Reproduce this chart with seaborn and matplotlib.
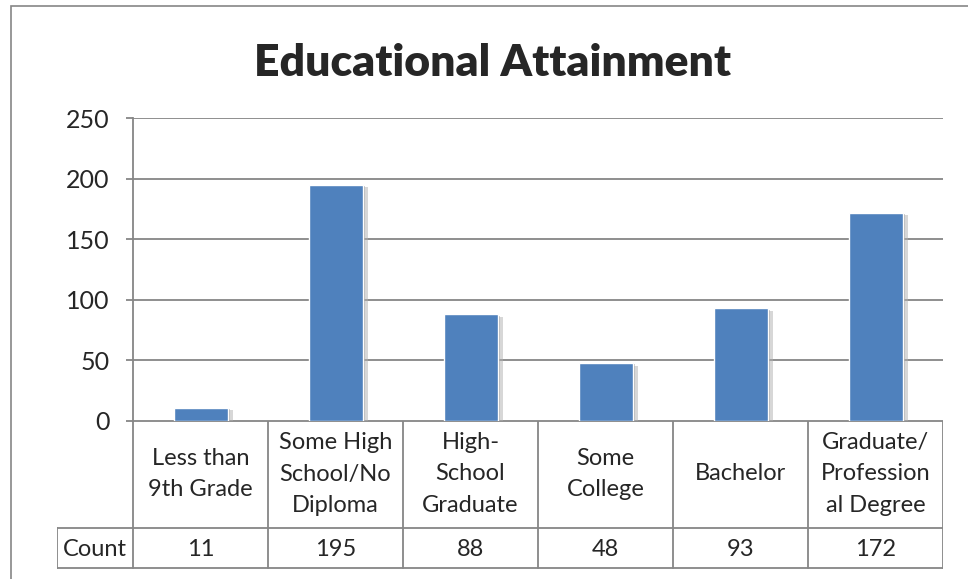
import numpy as np
import matplotlib
matplotlib.use("Agg")
import matplotlib.pyplot as plt
import matplotlib.patheffects as pe
from matplotlib.patches import Rectangle
import seaborn as sns
import pandas as pd

categories = ["Less than\n9th Grade", "Some High\nSchool/No\nDiploma", "High-\nSchool\nGraduate",
              "Some\nCollege", "Bachelor", "Graduate/\nProfession\nal Degree"]
counts = [11, 195, 88, 48, 93, 172]
row_label = "Count"
title = "Educational Attainment"
y_ticks = [0, 50, 100, 150, 200, 250]

df = pd.DataFrame({"cat": categories, "count": counts})

sns.set_style("white")
plt.rcParams['font.family'] = ['Lato', 'DejaVu Sans']

W, H = 968, 579
fig = plt.figure(figsize=(W / 100, H / 100), dpi=100)
grey = "#868686"
bar_col = "#4F81BD"


def px(x0, y0, x1, y1):
    # pixel box (top-left origin) -> figure fraction rect
    return [x0 / W, 1 - y1 / H, (x1 - x0) / W, (y1 - y0) / H]


# outer chart border
fig.add_artist(Rectangle((11 / W, -0.1), 1.2, (H - 6) / H + 0.1, transform=fig.transFigure,
                         fill=False, edgecolor=grey, linewidth=1.2))

ax = fig.add_axes(px(133, 118, 943, 421))
sns.barplot(data=df, x="cat", y="count", ax=ax, color=bar_col, width=0.4, saturation=1,
            order=categories)
for b in ax.patches:
    b.set_path_effects([pe.SimplePatchShadow(offset=(4, -2), shadow_rgbFace="#b0b0b0", alpha=0.5),
                        pe.SimplePatchShadow(offset=(2, -1), shadow_rgbFace="#909090", alpha=0.5),
                        pe.Normal()])
ax.set_xlim(-0.5, len(categories) - 0.5)
ax.set_ylim(0, 250)
ax.set_yticks(y_ticks)
ax.set_yticklabels([str(v) for v in y_ticks], fontsize=18)
ax.yaxis.grid(True, color=grey, linewidth=1.3)
ax.set_axisbelow(True)
ax.set_xticks([])
ax.set_xlabel("")
ax.set_ylabel("")
for s in ["top", "right", "bottom"]:
    ax.spines[s].set_visible(False)
ax.spines["left"].set_color(grey)
ax.spines["left"].set_linewidth(1.3)
ax.tick_params(axis="y", length=5, width=1.3, color=grey, left=True, pad=12)
ax.set_title(title, fontsize=32, fontweight="heavy", pad=0, x=(492 - 133) / 810, y=1.0 + 42 / 303)

# data table below the axis
tab = fig.add_axes(px(57, 421, 943, 570))
left_edge = -0.5 - 76 / 135
tab.set_xlim(left_edge, len(categories) - 0.5)
tab.set_ylim(570, 421)
tab.axis("off")
lw = 1.3
tab.plot([-0.5, len(categories) - 0.5], [421, 421], color=grey, lw=lw)
tab.plot([left_edge, len(categories) - 0.5], [568, 568], color=grey, lw=lw)
tab.plot([left_edge, len(categories) - 0.5], [528, 528], color=grey, lw=lw)
tab.plot([left_edge] * 2, [528, 568], color=grey, lw=lw)
for i in range(len(categories) + 1):
    tab.plot([i - 0.5] * 2, [421, 568], color=grey, lw=lw)
for i, (c, v) in enumerate(zip(categories, counts)):
    tab.text(i, 474, c, ha="center", va="center", fontsize=17, linespacing=1.62)
    tab.text(i, 549, str(v), ha="center", va="center", fontsize=17)
tab.text(left_edge + 38 / 135, 549, row_label, ha="center", va="center", fontsize=17)

fig.savefig("out.png", dpi=100)
